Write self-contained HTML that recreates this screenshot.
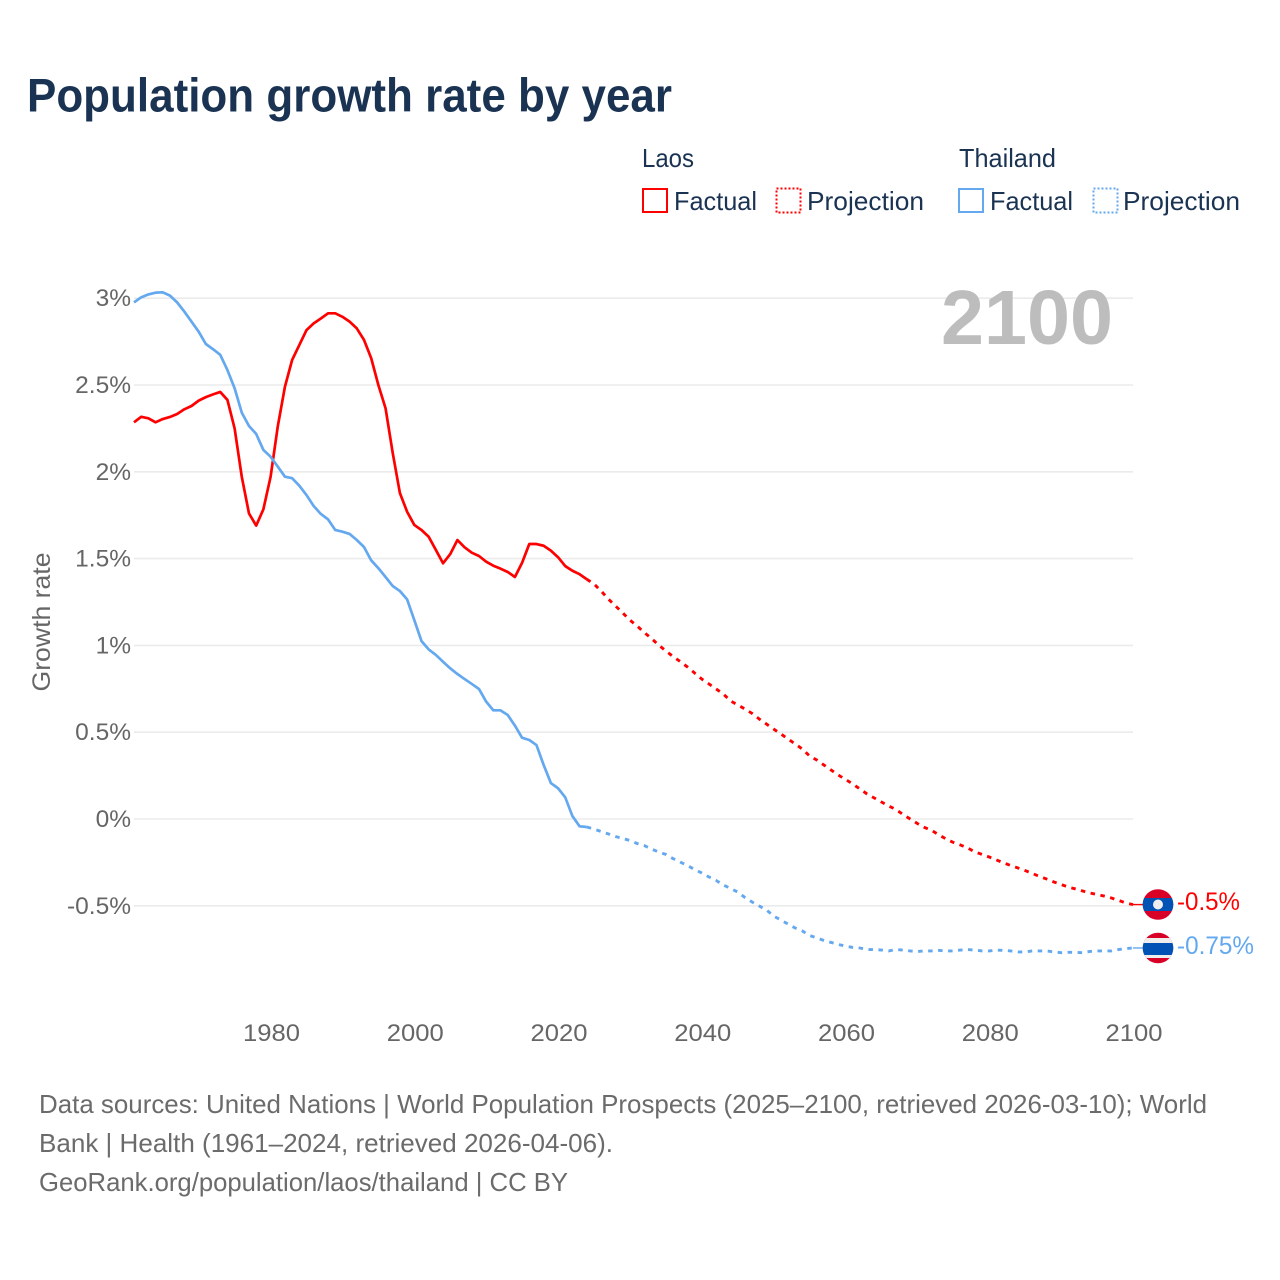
<!DOCTYPE html>
<html lang="en">
<head>
<meta charset="utf-8">
<title>Population growth rate by year</title>
<style>
html,body{margin:0;padding:0;background:#fff;}
svg{display:block;font-family:"Liberation Sans",sans-serif;}
</style>
</head>
<body>
<svg id="chart" width="1280" height="1280" viewBox="0 0 1280 1280" xmlns="http://www.w3.org/2000/svg">
  <rect x="0" y="0" width="1280" height="1280" fill="#ffffff"/>
  <text x="27" y="111.5" font-size="47" font-weight="700" fill="#1a3352" textLength="645" lengthAdjust="spacingAndGlyphs">Population growth rate by year</text>

  <g font-size="26" fill="#1a3352">
    <text x="642" y="167" textLength="52" lengthAdjust="spacingAndGlyphs">Laos</text>
    <g>
      <rect x="643" y="189" width="24" height="23" fill="none" stroke="#ff0000" stroke-width="2"/>
      <text x="674" y="210" textLength="83" lengthAdjust="spacingAndGlyphs">Factual</text>
    </g>
    <g>
      <rect x="776.5" y="188.5" width="24" height="24" fill="none" stroke="#ff0000" stroke-width="2" stroke-dasharray="2 2"/>
      <text x="807" y="210" textLength="117" lengthAdjust="spacingAndGlyphs">Projection</text>
    </g>
    <text x="959" y="167" textLength="97" lengthAdjust="spacingAndGlyphs">Thailand</text>
    <g>
      <rect x="959" y="189" width="24" height="23" fill="none" stroke="#64a8ef" stroke-width="2"/>
      <text x="990" y="210" textLength="83" lengthAdjust="spacingAndGlyphs">Factual</text>
    </g>
    <g>
      <rect x="1093.5" y="188.5" width="24" height="24" fill="none" stroke="#64a8ef" stroke-width="2" stroke-dasharray="2 2"/>
      <text x="1123" y="210" textLength="117" lengthAdjust="spacingAndGlyphs">Projection</text>
    </g>
  </g>

  <g id="grid"></g>
  <g id="yTicks" font-size="24.5" fill="#666666" text-anchor="end"></g>
  <g id="xTicks" font-size="24.5" fill="#666666" text-anchor="middle"></g>
  <text transform="translate(50 622) rotate(-90)" font-size="25" fill="#666666" text-anchor="middle" textLength="139" lengthAdjust="spacingAndGlyphs">Growth rate</text>
  <text x="941" y="344" font-size="77" font-weight="700" fill="#bdbdbd" textLength="172" lengthAdjust="spacingAndGlyphs">2100</text>

  <g id="series"></g>

  <g>
    <clipPath id="laosClip"><circle cx="1158" cy="904.5" r="15.3"/></clipPath>
    <g clip-path="url(#laosClip)">
      <rect x="1142" y="889" width="32" height="31" fill="#d80027"/>
      <rect x="1142" y="898" width="32" height="13" fill="#0052b4"/>
      <circle cx="1158" cy="904.5" r="5" fill="#eeeeee"/>
    </g>
    <text x="1177" y="910" font-size="25" fill="#ff0000" textLength="63" lengthAdjust="spacingAndGlyphs">-0.5%</text>
  </g>
  <g>
    <clipPath id="thaiClip"><circle cx="1158" cy="948" r="15.3"/></clipPath>
    <g clip-path="url(#thaiClip)">
      <rect x="1142" y="932" width="32" height="32" fill="#d80027"/>
      <rect x="1142" y="938" width="32" height="20" fill="#eeeeee"/>
      <rect x="1142" y="943" width="32" height="12" fill="#0052b4"/>
    </g>
    <text x="1177" y="954" font-size="25" fill="#64a8ef" textLength="77" lengthAdjust="spacingAndGlyphs">-0.75%</text>
  </g>

  <g font-size="26" fill="#6b6b6b">
    <text x="39" y="1113" textLength="1168" lengthAdjust="spacingAndGlyphs">Data sources: United Nations | World Population Prospects (2025–2100, retrieved 2026-03-10); World</text>
    <text x="39" y="1152" textLength="574" lengthAdjust="spacingAndGlyphs">Bank | Health (1961–2024, retrieved 2026-04-06).</text>
    <text x="39" y="1191" textLength="529" lengthAdjust="spacingAndGlyphs">GeoRank.org/population/laos/thailand | CC BY</text>
  </g>
</svg>
<script>
var yTickValues = [3, 2.5, 2, 1.5, 1, 0.5, 0, -0.5];
var yTickLabels = ["3%", "2.5%", "2%", "1.5%", "1%", "0.5%", "0%", "-0.5%"];
var xTickYears = [1980, 2000, 2020, 2040, 2060, 2080, 2100];
var factualStartYear = 1961;
var projectionStartYear = 2025;
var endYear = 2100;

var laosFactual = [2.285,2.317,2.308,2.285,2.304,2.316,2.333,2.36,2.379,2.41,2.43,2.446,2.46,2.414,2.25,1.97,1.76,1.69,1.784,1.97,2.26,2.49,2.644,2.73,2.816,2.855,2.883,2.913,2.913,2.893,2.865,2.826,2.76,2.655,2.5,2.366,2.108,1.877,1.77,1.694,1.665,1.626,1.55,1.473,1.526,1.607,1.565,1.534,1.515,1.482,1.459,1.442,1.423,1.394,1.476,1.584,1.584,1.574,1.546,1.508,1.457,1.43,1.41,1.381];
var laosProjection = [1.354,1.313,1.267,1.227,1.187,1.146,1.112,1.074,1.04,1.002,0.968,0.936,0.907,0.876,0.841,0.806,0.778,0.749,0.72,0.68,0.657,0.634,0.608,0.576,0.547,0.518,0.49,0.461,0.432,0.403,0.363,0.34,0.311,0.282,0.253,0.228,0.202,0.173,0.144,0.121,0.098,0.075,0.055,0.026,0,-0.026,-0.049,-0.066,-0.092,-0.115,-0.135,-0.15,-0.167,-0.19,-0.204,-0.219,-0.236,-0.253,-0.268,-0.282,-0.297,-0.314,-0.331,-0.346,-0.363,-0.377,-0.392,-0.403,-0.415,-0.426,-0.435,-0.444,-0.455,-0.469,-0.484,-0.493];
var thailandFactual = [2.976,3.005,3.022,3.032,3.034,3.015,2.976,2.923,2.865,2.807,2.736,2.706,2.674,2.586,2.481,2.34,2.264,2.218,2.126,2.087,2.03,1.972,1.963,1.92,1.866,1.803,1.757,1.726,1.665,1.655,1.642,1.607,1.567,1.49,1.445,1.394,1.342,1.313,1.265,1.146,1.025,0.977,0.945,0.906,0.868,0.835,0.806,0.778,0.749,0.676,0.626,0.626,0.599,0.538,0.468,0.455,0.426,0.311,0.207,0.177,0.125,0.017,-0.042,-0.046];
var thailandProjection = [-0.058,-0.072,-0.086,-0.101,-0.112,-0.124,-0.141,-0.153,-0.173,-0.19,-0.204,-0.228,-0.248,-0.268,-0.291,-0.311,-0.334,-0.354,-0.38,-0.4,-0.421,-0.452,-0.478,-0.501,-0.524,-0.559,-0.582,-0.605,-0.628,-0.645,-0.671,-0.685,-0.7,-0.711,-0.723,-0.732,-0.74,-0.743,-0.752,-0.752,-0.755,-0.76,-0.752,-0.755,-0.76,-0.763,-0.76,-0.76,-0.757,-0.76,-0.76,-0.755,-0.752,-0.755,-0.76,-0.76,-0.755,-0.757,-0.76,-0.766,-0.766,-0.76,-0.76,-0.76,-0.766,-0.77,-0.768,-0.768,-0.77,-0.763,-0.76,-0.76,-0.76,-0.752,-0.746,-0.743];

var NS = 'http://www.w3.org/2000/svg';
function xScale(year) { return 134 + (year - factualStartYear) * (1133 - 134) / (endYear - factualStartYear); }
function yScale(v) { return 819 - v * 173.6; }

var gridGroup = document.getElementById('grid');
var yTickGroup = document.getElementById('yTicks');
yTickValues.forEach(function (v, i) {
  var line = document.createElementNS(NS, 'line');
  
  
  line.setAttribute('x1', xScale(factualStartYear));
  line.setAttribute('x2', xScale(endYear));
  line.setAttribute('y1', yScale(v));
  line.setAttribute('y2', yScale(v));
  line.setAttribute('stroke', '#ebebeb');
  line.setAttribute('stroke-width', '1.6');
  gridGroup.appendChild(line);
  var label = document.createElementNS(NS, 'text');
  
  
  label.setAttribute('x', 131);
  label.setAttribute('y', yScale(v) + 8);
  label.textContent = yTickLabels[i];
  yTickGroup.appendChild(label);
});

var xTickGroup = document.getElementById('xTicks');
xTickYears.forEach(function (year) {
  var label = document.createElementNS(NS, 'text');
  
  
  label.setAttribute('x', xScale(year) + 1);
  label.setAttribute('y', 1041);
  label.setAttribute('textLength', '57');
  label.setAttribute('lengthAdjust', 'spacingAndGlyphs');
  label.textContent = String(year);
  xTickGroup.appendChild(label);
});

function pointsFrom(values, startYear) {
  return values.map(function (v, i) {
    return xScale(startYear + i).toFixed(2) + ',' + yScale(v).toFixed(2);
  });
}
var seriesGroup = document.getElementById('series');
function addLine(name, pts, color, dash, width) {
  var line = document.createElementNS(NS, 'polyline');
  
  
  line.setAttribute('points', pts.join(' '));
  line.setAttribute('fill', 'none');
  line.setAttribute('stroke', color);
  line.setAttribute('stroke-width', width);
  line.setAttribute('stroke-linejoin', 'round');
  if (dash) { line.setAttribute('stroke-dasharray', dash); }
  seriesGroup.appendChild(line);
}
function addSeries(prefix, factual, projection, color) {
  var factualPts = pointsFrom(factual, factualStartYear);
  var projectionPts = pointsFrom(projection, projectionStartYear);
  addLine(prefix + '-factual-line', factualPts, color, null, 2.7);
  addLine(prefix + '-projection-line', [factualPts[factualPts.length - 1]].concat(projectionPts), color, '4.5 5.5', 2.9);
  var lastY = yScale(projection[projection.length - 1]).toFixed(2);
  addLine(prefix + '-end-connector', [xScale(endYear).toFixed(2) + ',' + lastY, '1144,' + lastY], color, null, 1.4);
}
addSeries('laos', laosFactual, laosProjection, '#ff0000');
addSeries('thailand', thailandFactual, thailandProjection, '#64a8ef');
</script>
</body>
</html>
